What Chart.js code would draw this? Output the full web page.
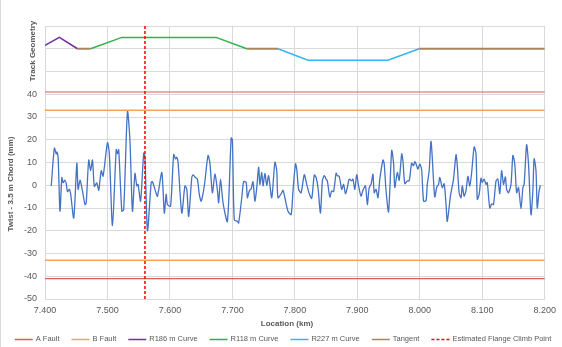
<!DOCTYPE html>
<html>
<head>
<meta charset="utf-8">
<script src="https://cdn.jsdelivr.net/npm/chart.js@4.4.1/dist/chart.umd.min.js"></script>
<style>
  html, body { margin: 0; padding: 0; background: #fff; }
  #wrap { width: 562px; height: 347px; }
</style>
</head>
<body>
<div id="wrap"><canvas id="twist-chart" width="562" height="347"></canvas></div>
<script>
// measured twist over a 3.5 m chord (mm) against location (km)
const locationKm = [
  7.410, 7.415, 7.418, 7.419, 7.421, 7.424, 7.427, 7.429, 7.432, 7.434,
  7.436, 7.439, 7.441, 7.446, 7.451, 7.453, 7.456, 7.459, 7.464, 7.466,
  7.470, 7.473, 7.476, 7.479, 7.483, 7.486, 7.490, 7.493, 7.500, 7.503,
  7.508, 7.514, 7.516, 7.518, 7.523, 7.526, 7.532, 7.536, 7.540, 7.544,
  7.547, 7.549, 7.553, 7.558, 7.560, 7.564, 7.570, 7.572, 7.576, 7.580,
  7.587, 7.591, 7.594, 7.596, 7.601, 7.606, 7.609, 7.611, 7.613, 7.619,
  7.624, 7.627, 7.630, 7.635, 7.637, 7.641, 7.644, 7.647, 7.650, 7.655,
  7.661, 7.664, 7.668, 7.672, 7.676, 7.678, 7.681, 7.685, 7.692, 7.698,
  7.700, 7.703, 7.708, 7.710, 7.715, 7.718, 7.722, 7.724, 7.727, 7.730,
  7.733, 7.736, 7.739, 7.742, 7.744, 7.747, 7.749, 7.752, 7.755, 7.758,
  7.763, 7.768, 7.771, 7.773, 7.779, 7.781, 7.784, 7.789, 7.794, 7.797,
  7.801, 7.803, 7.806, 7.810, 7.815, 7.819, 7.823, 7.827, 7.831, 7.834,
  7.837, 7.841, 7.844, 7.847, 7.850, 7.852, 7.856, 7.859, 7.862, 7.866,
  7.868, 7.871, 7.875, 7.878, 7.881, 7.884, 7.887, 7.891, 7.893, 7.896,
  7.899, 7.902, 7.906, 7.909, 7.913, 7.916, 7.919, 7.922, 7.925, 7.927,
  7.930, 7.933, 7.936, 7.941, 7.943, 7.946, 7.950, 7.955, 7.958, 7.960,
  7.964, 7.967, 7.971, 7.973, 7.976, 7.980, 7.983, 7.987, 7.990, 7.992,
  7.995, 7.997, 8.000, 8.003, 8.006, 8.010, 8.012, 8.015, 8.018, 8.022,
  8.024, 8.027, 8.030, 8.032, 8.036, 8.039, 8.042, 8.044, 8.049, 8.052,
  8.054, 8.058, 8.060, 8.063, 8.066, 8.068, 8.071, 8.074, 8.077, 8.080,
  8.083, 8.087, 8.090, 8.092, 8.095, 8.098, 8.100, 8.103, 8.106, 8.108,
  8.112, 8.115, 8.118, 8.122, 8.125, 8.128, 8.131, 8.134, 8.137, 8.139,
  8.142, 8.146, 8.149, 8.152, 8.155, 8.158, 8.162, 8.165, 8.167, 8.171,
  8.174, 8.178, 8.181, 8.183, 8.186, 8.188, 8.191, 8.193
];
const twistMm = [
  -0.3, 16.3, 13.8, 14.6, 12.3, -11.4, 3.4, 1.2, 2.2, 0.7,
  -2.8, -1.8, -3.7, -14.4, 9.7, -1.8, 2.2, -1.0, -8.5, -7.7,
  11.1, 6.4, 11.1, -0.5, 1.0, -2.2, 6.4, 4.0, 18.7, 13.8,
  -17.7, 15.7, 13.8, 15.6, -11.4, -10.7, 32.5, 19.6, -11.4, 5.2,
  -0.3, 0.4, -7.0, 14.1, 12.3, -20.0, 1.2, 1.6, -1.8, -4.8,
  5.6, -12.2, -4.0, -8.5, -9.2, 13.5, 11.6, 12.3, 10.1, -12.2,
  -0.3, -1.8, -13.7, 3.4, 4.5, 3.4, 2.7, -4.0, -7.0, -0.3,
  13.1, 9.7, -3.3, 4.9, -2.2, -7.7, 2.7, -7.7, -15.9, 20.8,
  19.8, -15.2, -15.9, -16.6, -5.5, 1.6, 1.2, -5.5, -2.5, -1.5,
  1.5, -7.0, -1.0, 7.9, 0.4, 5.6, -0.3, 5.2, 0.0, 4.2,
  -5.5, 10.1, 6.4, -5.5, -3.3, -2.2, -5.5, -11.4, -12.9, -2.5,
  9.4, 7.1, -1.8, -3.3, 4.6, 0.4, -3.7, -5.8, 4.5, 3.4,
  -1.0, -12.2, 1.9, 4.2, 2.7, 1.9, -5.2, -2.5, -2.8, 5.3,
  4.2, 3.9, -1.8, 0.4, -3.7, -1.0, 2.7, 1.9, 2.7, -1.8,
  4.6, -0.3, -4.8, -2.2, -0.3, -8.5, -1.0, 0.4, 4.9, -3.3,
  -1.8, -5.5, 2.7, 11.1, 9.4, -2.5, -11.7, 15.3, 9.7, -1.0,
  5.6, 2.2, 13.8, 10.6, 0.7, 1.9, 1.9, 9.7, 8.6, 10.5,
  8.6, 7.1, 9.4, 6.7, -7.0, -6.7, 0.4, 6.4, 19.3, 1.9,
  -5.2, -1.0, 0.4, 3.4, -1.0, 0.7, -8.5, -15.9, -4.8, -0.3,
  2.7, 13.4, 8.6, -3.3, -5.5, -0.3, -4.8, -2.2, 3.9, -0.3,
  5.6, 16.8, 13.8, -6.2, -4.0, 3.1, 1.2, 2.7, 0.4, 1.2,
  -10.0, -8.2, -8.5, 1.9, 2.7, -3.7, 6.4, 0.4, 3.7, -1.8,
  -3.3, 0.4, 13.1, 9.4, -3.3, -1.0, -10.3, -1.0, 0.4, 17.8,
  9.4, -12.9, -2.5, 11.6, 6.4, -10.0, -2.5, 0.0
];

// fault limits (mm), drawn at + and -
const aFaultMm = 41;
const bFaultMm = 33;
const faultKm = [7.4, 8.2];

const flangeClimbKm = 7.56;

// track geometry strip plotted above the twist trace (60 = tangent level)
const r186Km = [7.400, 7.423, 7.452];
const r186Lvl = [61.5, 65, 60];
const r118Km = [7.473, 7.523, 7.674, 7.723];
const r118Lvl = [60, 65, 65, 60];
const r227Km = [7.773, 7.821, 7.949, 7.999];
const r227Lvl = [60, 55, 55, 60];
const tangentRuns = [[7.452, 7.473], [7.723, 7.773], [7.999, 8.200]];
const tangentLvl = 60;

const xTicks = [7.4, 7.5, 7.6, 7.7, 7.8, 7.9, 8.0, 8.1, 8.2];
const yMin = -50, yMax = 70, yLabelMax = 40;

const FONT = '"Liberation Sans", Arial, sans-serif';
const TEXT = '#595959';

const pts = (xs, ys) => xs.map((x, i) => ({ x, y: ys[i] }));

function limitPts(v) {
  return [
    { x: faultKm[0], y: v }, { x: faultKm[1], y: v },
    { x: faultKm[1], y: null },
    { x: faultKm[0], y: -v }, { x: faultKm[1], y: -v },
  ];
}

function tangentPts() {
  let out = [];
  tangentRuns.forEach((r, i) => {
    if (i > 0) out.push({ x: r[0], y: null });
    out.push({ x: r[0], y: tangentLvl }, { x: r[1], y: tangentLvl });
  });
  return out;
}

const line = (label, color, data, extra) => Object.assign({
  label, data, borderColor: color, backgroundColor: color,
  borderWidth: 1.5, pointRadius: 0, fill: false, spanGaps: false, order: 1,
}, extra || {});

const datasets = [
  line("A Fault", "#dc5c56", limitPts(aFaultMm), { borderWidth: 1.2 }),
  line("B Fault", "#f8a15a", limitPts(bFaultMm), { borderWidth: 1.5 }),
  line("R186 m Curve", "#7030a0", pts(r186Km, r186Lvl)),
  line("R118 m Curve", "#2db34a", pts(r118Km, r118Lvl)),
  line("R227 m Curve", "#33b5f0", pts(r227Km, r227Lvl)),
  line("Tangent", "#a9845c", tangentPts(), { borderWidth: 2 }),
  line("Estimated Flange Climb Point", "#ff0000",
    [{ x: flangeClimbKm, y: yMin }, { x: flangeClimbKm, y: yMax }],
    { borderDash: [3, 2], borderWidth: 1.5, order: 0 }),
  line("Twist", "#4472c4", pts(locationKm, twistMm),
    { borderWidth: 1.3, tension: 0.25, order: 2, inLegend: false }),
];

// frame edge, axis titles and the legend row
const chartText = {
  id: "chartText",
  beforeDraw(chart) {
    const ctx = chart.ctx;
    ctx.save();
    ctx.strokeStyle = "#d9d9d9";
    ctx.lineWidth = 1;
    ctx.beginPath();
    ctx.moveTo(0.5, 0);
    ctx.lineTo(0.5, chart.height);
    ctx.stroke();
    ctx.restore();
  },
  afterDraw(chart) {
    const ctx = chart.ctx;
    ctx.save();
    ctx.fillStyle = TEXT;
    ctx.textBaseline = "middle";
    ctx.textAlign = "center";

    ctx.font = "bold 8px " + FONT;
    ctx.save();
    ctx.translate(11, 184);
    ctx.rotate(-Math.PI / 2);
    ctx.fillText("Twist - 3.5 m Chord (mm)", 0, 0);
    ctx.restore();
    ctx.save();
    ctx.translate(33, 51);
    ctx.rotate(-Math.PI / 2);
    ctx.fillText("Track Geometry", 0, 0);
    ctx.restore();

    ctx.fillText("Location (km)", 287, 324);

    // legend: shrink the font until the row fits the frame width
    ctx.textAlign = "left";
    const items = chart.data.datasets.filter(d => d.inLegend !== false);
    const sw = 18, gapText = 3, gapItem = 12, maxW = 540;
    let size = 9.5, widths, total;
    do {
      ctx.font = size + "px " + FONT;
      widths = items.map(d => sw + gapText + ctx.measureText(d.label).width);
      total = widths.reduce((a, b) => a + b, 0) + gapItem * (items.length - 1);
      size -= 0.25;
    } while (total > maxW && size > 6);
    let x = 283 - total / 2;
    const y = 339;
    items.forEach((d, i) => {
      ctx.save();
      ctx.strokeStyle = d.borderColor;
      ctx.lineWidth = 1.5;
      ctx.setLineDash(d.borderDash || []);
      ctx.beginPath();
      ctx.moveTo(x, y + 0.5);
      ctx.lineTo(x + sw, y + 0.5);
      ctx.stroke();
      ctx.restore();
      ctx.fillText(d.label, x + sw + gapText, y);
      x += widths[i] + gapItem;
    });
    ctx.restore();
  }
};

new Chart(document.getElementById("twist-chart"), {
  type: "line",
  data: { datasets },
  options: {
    responsive: false,
    animation: false,
    layout: { padding: { top: 26, right: 16, left: 0, bottom: 0 } },
    plugins: {
      legend: { display: false },
      tooltip: { enabled: false },
    },
    scales: {
      x: {
        type: "linear",
        min: 7.4,
        max: 8.2,
        afterBuildTicks: (s) => { s.ticks = xTicks.map(v => ({ value: v })); },
        afterFit: (s) => { s.height = 48; },
        grid: { color: "#d9d9d9", drawTicks: false },
        border: { display: false },
        ticks: {
          padding: 6,
          color: TEXT,
          font: { family: FONT, size: 9 },
          callback: (v) => Number(v).toFixed(3),
        },
      },
      y: {
        min: yMin,
        max: yMax,
        afterFit: (s) => { s.width = 45; },
        grid: { color: "#d9d9d9", drawTicks: false },
        border: { display: false },
        ticks: {
          stepSize: 10,
          padding: 8,
          color: TEXT,
          font: { family: FONT, size: 9 },
          callback: (v) => (v > yLabelMax ? "" : v),
        },
      },
    },
  },
  plugins: [chartText],
});
</script>
</body>
</html>
